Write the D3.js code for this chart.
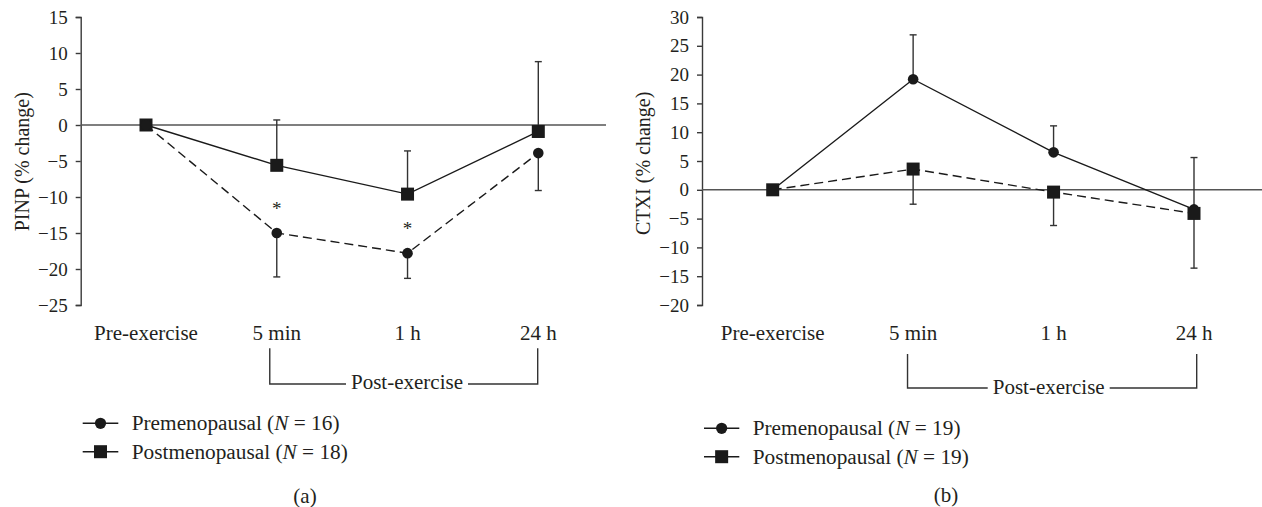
<!DOCTYPE html>
<html>
<head>
<meta charset="utf-8">
<script src="https://cdn.jsdelivr.net/npm/d3@7"></script>
<style>
  html, body { margin: 0; padding: 0; background: #fff; }
  svg { display: block; }
  text { font-family: "Liberation Serif", "Times New Roman", serif; fill: #231f20; }
</style>
</head>
<body>
<svg id="chart" width="1262" height="507"></svg>
<script>
// ---------- data ----------
const categories = ["Pre-exercise", "5 min", "1 h", "24 h"];

// Panel (a) PINP
const pinpPreMean  = [0, -15.0, -17.8, -3.9];   // Premenopausal (circles, dashed)
const pinpPreErr   = [0, 6.1, 3.5, 5.2];        // drawn downward
const pinpPostMean = [0, -5.6, -9.6, -0.9];     // Postmenopausal (squares, solid)
const pinpPostErr  = [0, 6.3, 6.0, 9.7];        // drawn upward
const pinpSig      = [false, true, true, false];
const pinpTicks    = [15, 10, 5, 0, -5, -10, -15, -20, -25];

// Panel (b) CTXI
const ctxPreMean  = [0, 19.2, 6.5, -3.4];       // Premenopausal (circles, solid)
const ctxPreErr   = [0, 7.7, 4.6, 9.0];         // upward
const ctxPostMean = [0, 3.6, -0.4, -4.1];       // Postmenopausal (squares, dashed)
const ctxPostErr  = [0, 6.1, 5.8, 9.5];         // downward
const ctxTicks    = [30, 25, 20, 15, 10, 5, 0, -5, -10, -15, -20];

const legendA = [["Premenopausal (", "N", " = 16)"], ["Postmenopausal (", "N", " = 18)"]];
const legendB = [["Premenopausal (", "N", " = 19)"], ["Postmenopausal (", "N", " = 19)"]];

// ---------- drawing ----------
const svg = d3.select("#chart");
const INK = "#1a1a1a";
const AXIS = "#3a3a3a";
const FONT = '"Liberation Serif", "Times New Roman", serif';

function panel(cfg) {
  const g = svg.append("g").attr("font-family", FONT);
  const x = d3.scalePoint().domain(categories).range(cfg.xRange);
  const y = d3.scaleLinear().domain(cfg.yDomain).range([305, 17]);

  // y axis
  const ax = g.append("g")
    .attr("transform", `translate(${cfg.axisX},0)`)
    .call(d3.axisLeft(y).tickValues(cfg.ticks).tickSize(5).tickPadding(8)
      .tickFormat(d3.format("d")));
  ax.attr("font-family", FONT);
  ax.select(".domain").attr("stroke", AXIS).attr("stroke-width", 1.4);
  ax.selectAll(".tick line").attr("stroke", AXIS).attr("stroke-width", 1.4);
  ax.selectAll(".tick text").attr("font-size", 19)
    .attr("font-family", FONT).attr("fill", "#231f20");

  // zero line
  g.append("line")
    .attr("x1", cfg.axisX).attr("x2", cfg.zeroEnd)
    .attr("y1", y(0)).attr("y2", y(0))
    .attr("stroke", "#555").attr("stroke-width", 1.6);

  // y title
  g.append("text")
    .attr("transform", `translate(${cfg.titleX},${cfg.titleY}) rotate(-90)`)
    .attr("text-anchor", "middle").attr("dominant-baseline", "central")
    .attr("font-size", 20).text(cfg.title);

  // x labels
  g.selectAll("text.xl").data(categories).join("text")
    .attr("class", "xl")
    .attr("x", d => x(d)).attr("y", 332.5)
    .attr("text-anchor", "middle").attr("dominant-baseline", "central")
    .attr("font-size", 21).text(d => d);

  const line = d3.line().x((d, i) => x(categories[i])).y(d => y(d));

  // series
  cfg.series.forEach(s => {
    s.mean.forEach((m, i) => {
      if (i === 0) return;
      const end = m + s.dir * s.err[i];
      const cx = x(categories[i]);
      g.append("line").attr("x1", cx).attr("x2", cx)
        .attr("y1", y(m)).attr("y2", y(end))
        .attr("stroke", "#333").attr("stroke-width", 1.4);
      g.append("line").attr("x1", cx - 3.5).attr("x2", cx + 3.5)
        .attr("y1", y(end)).attr("y2", y(end))
        .attr("stroke", "#333").attr("stroke-width", 1.4);
    });
    g.append("path").datum(s.mean)
      .attr("d", line).attr("fill", "none")
      .attr("stroke", INK).attr("stroke-width", 1.4)
      .attr("stroke-dasharray", s.dashed ? "9,5" : null);
  });
  cfg.series.forEach(s => {
    s.mean.forEach((m, i) => {
      const cx = x(categories[i]), cy = y(m);
      if (s.shape === "circle") {
        g.append("circle").attr("cx", cx).attr("cy", cy).attr("r", 5.3).attr("fill", INK);
      } else {
        g.append("rect").attr("x", cx - 6.5).attr("y", cy - 6.5)
          .attr("width", 13).attr("height", 13).attr("fill", INK);
      }
    });
  });

  // significance asterisks
  if (cfg.sig) {
    cfg.sig.vals.forEach((flag, i) => {
      if (!flag) return;
      g.append("text").attr("x", x(categories[i]))
        .attr("y", y(cfg.sig.mean[i]) - 26 + 8)
        .attr("text-anchor", "middle").attr("font-size", 19).attr("fill", "#444").text("*");
    });
  }

  // bracket
  const bx1 = x("5 min") + cfg.br.dl, bx2 = x("24 h") + cfg.br.dr;
  const label = g.append("text").attr("x", cfg.br.tx).attr("y", cfg.br.ty)
    .attr("text-anchor", "middle").attr("dominant-baseline", "central")
    .attr("font-size", 21).text("Post-exercise");
  const tw = label.node().getComputedTextLength();
  g.append("path")
    .attr("d", `M${bx1},${cfg.br.top}V${cfg.br.bot}H${cfg.br.tx - tw / 2 - 5}`)
    .attr("fill", "none").attr("stroke", "#333").attr("stroke-width", 1.4);
  g.append("path")
    .attr("d", `M${cfg.br.tx + tw / 2 + 5},${cfg.br.bot}H${bx2}V${cfg.br.top}`)
    .attr("fill", "none").attr("stroke", "#333").attr("stroke-width", 1.4);

  // legend
  cfg.legend.items.forEach((item, k) => {
    const ly = cfg.legend.y[k];
    const lg = g.append("g");
    lg.append("line").attr("x1", cfg.legend.x1).attr("x2", cfg.legend.x2)
      .attr("y1", ly).attr("y2", ly).attr("stroke", INK).attr("stroke-width", 1.5);
    const mx = (cfg.legend.x1 + cfg.legend.x2) / 2;
    if (k === 0) lg.append("circle").attr("cx", mx).attr("cy", ly).attr("r", 5.6).attr("fill", INK);
    else lg.append("rect").attr("x", mx - 6.5).attr("y", ly - 6.5).attr("width", 13).attr("height", 13).attr("fill", INK);
    const t = lg.append("text").attr("x", cfg.legend.tx).attr("y", ly)
      .attr("dominant-baseline", "central").attr("font-size", 21.3);
    t.append("tspan").text(item[0]);
    t.append("tspan").attr("font-style", "italic").text(item[1]);
    t.append("tspan").text(item[2]);
  });

  // panel label
  g.append("text").attr("x", cfg.tag.x).attr("y", cfg.tag.y)
    .attr("text-anchor", "middle").attr("dominant-baseline", "central")
    .attr("font-size", 21).text(cfg.tag.t);
}

panel({
  xRange: [146, 538.3], yDomain: [-25, 15], ticks: pinpTicks,
  axisX: 80.7, zeroEnd: 606,
  title: "PINP (% change)", titleX: 21.7, titleY: 161.7,
  series: [
    { mean: pinpPostMean, err: pinpPostErr, dir: 1, shape: "square", dashed: false },
    { mean: pinpPreMean, err: pinpPreErr, dir: -1, shape: "circle", dashed: true }
  ],
  sig: { vals: pinpSig, mean: pinpPreMean },
  br: { dl: -7, dr: -0.6, top: 348.3, bot: 384, tx: 407, ty: 381.7 },
  legend: { items: legendA, y: [423.3, 451.7], x1: 82.7, x2: 118.3, tx: 131.7 },
  tag: { x: 305, y: 496, t: "(a)" }
});

panel({
  xRange: [772.7, 1194], yDomain: [-20, 30], ticks: ctxTicks,
  axisX: 702, zeroEnd: 1262,
  title: "CTXI (% change)", titleX: 643.3, titleY: 163.3,
  series: [
    { mean: ctxPreMean, err: ctxPreErr, dir: 1, shape: "circle", dashed: false },
    { mean: ctxPostMean, err: ctxPostErr, dir: -1, shape: "square", dashed: true }
  ],
  sig: null,
  br: { dl: -5.6, dr: 2.7, top: 354, bot: 388, tx: 1048.7, ty: 386.7 },
  legend: { items: legendB, y: [428.3, 456.7], x1: 704, x2: 739.3, tx: 752.7 },
  tag: { x: 946, y: 495, t: "(b)" }
});
</script>
</body>
</html>
